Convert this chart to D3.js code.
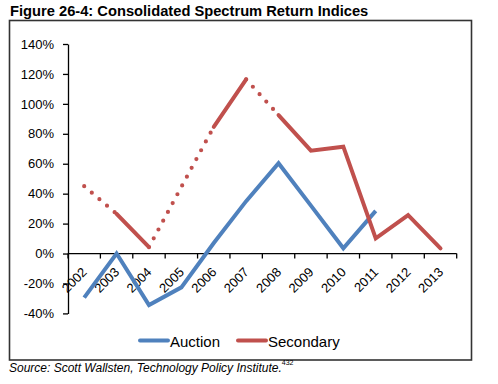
<!DOCTYPE html>
<html>
<head>
<meta charset="utf-8">
<script src="https://cdn.jsdelivr.net/npm/d3@7"></script>
<style>
  body { margin: 0; background: #fff; }
  text { font-family: "Liberation Sans", Arial, sans-serif; fill: #000; }
  .axis path, .axis line { stroke: #000; stroke-width: 1.3; }
</style>
</head>
<body>
<div id="cont"></div>
<script>

var years = ["2002", "2003", "2004", "2005", "2006", "2007", "2008", "2009", "2010", "2011", "2012", "2013"];
var auction = [-29.5, 0, -34.4, -22.6, 7, 35, 60.3, 32, 3.5, 28.5, null, null];
var secondary = [45, 26.5, 4.3, null, 84.7, 116.4, 92.5, 68.7, 71.4, 10.1, 25.7, 3.5];
// segments of Secondary that start at these years are drawn dotted
var secondaryDotted = ["2002", "2004", "2007"];
var yTicks = [-40, -20, 0, 20, 40, 60, 80, 100, 120, 140];
var seriesNames = ["Auction", "Secondary"];
var colors = ["#4F81BD", "#C0504D"];

var width = 498, height = 384;

var svg = d3.select("#cont").append("svg")
  .attr("width", width)
  .attr("height", height);

svg.append("text")
  .attr("x", 10)
  .attr("y", 16)
  .style("font-weight", "bold")
  .style("font-size", "14.7px")
  .text("Figure 26-4: Consolidated Spectrum Return Indices");

svg.append("rect")
  .attr("x", 9.5)
  .attr("y", 20.5)
  .attr("width", 462)
  .attr("height", 339.5)
  .attr("fill", "none")
  .attr("stroke", "#333")
  .attr("stroke-width", 1.6);

var xScale = d3.scaleBand().domain(years).range([68, 456.7]),
  yScale = d3.scaleLinear().domain([-40, 140]).range([313.4, 44]);

// y axis
var yAxis = svg.append("g")
  .attr("class", "axis")
  .attr("transform", "translate(68,0)")
  .call(d3.axisLeft(yScale)
    .tickValues(yTicks)
    .tickSize(5)
    .tickSizeOuter(0)
    .tickPadding(9)
    .tickFormat(function(d) { return d + "%"; }));
yAxis.selectAll("text").style("font-size", "13px");

// x axis at zero, ticks on category boundaries
var xAxis = svg.append("g")
  .attr("class", "axis")
  .attr("transform", "translate(0," + yScale(0) + ")");
xAxis.append("line")
  .attr("x1", xScale.range()[0])
  .attr("x2", xScale.range()[1]);
xAxis.selectAll(".tk")
  .data(years.concat(["end"]))
  .enter().append("line")
  .attr("class", "tk")
  .attr("x1", function(d, i) { return xScale.range()[0] + i * xScale.bandwidth(); })
  .attr("x2", function(d, i) { return xScale.range()[0] + i * xScale.bandwidth(); })
  .attr("y1", 0)
  .attr("y2", 5);

svg.selectAll(".xlab")
  .data(years)
  .enter().append("text")
  .attr("class", "xlab")
  .attr("text-anchor", "end")
  .style("font-size", "13px")
  .attr("transform", function(d) {
    var cx = xScale(d) + xScale.bandwidth() / 2;
    return "translate(" + (cx + 3.5) + "," + 273 + ") rotate(-45)";
  })
  .text(function(d) { return d; });

function cx(i) { return xScale(years[i]) + xScale.bandwidth() / 2; }

// Auction line
var line = d3.line()
  .defined(function(d) { return d.v != null; })
  .x(function(d) { return cx(d.i); })
  .y(function(d) { return yScale(d.v); });

svg.append("path")
  .datum(auction.map(function(v, i) { return { i: i, v: v }; }))
  .attr("d", line)
  .attr("fill", "none")
  .attr("stroke", colors[0])
  .attr("stroke-width", 4)
  .attr("stroke-linejoin", "miter");

// Secondary line, drawn segment by segment
var pts = [];
secondary.forEach(function(v, i) { if (v != null) pts.push({ i: i, v: v }); });
var segs = [];
for (var k = 0; k < pts.length - 1; k++) {
  segs.push({ a: pts[k], b: pts[k + 1], dotted: secondaryDotted.indexOf(years[pts[k].i]) >= 0 });
}
// join solid consecutive segments into polylines
var groups = [];
segs.forEach(function(s) {
  var last = groups[groups.length - 1];
  if (last && !s.dotted && !last.dotted) {
    last.pts.push(s.b);
  } else {
    groups.push({ dotted: s.dotted, pts: [s.a, s.b] });
  }
});

svg.selectAll(".sec")
  .data(groups)
  .enter().append("path")
  .attr("class", "sec")
  .attr("d", function(g) { return line(g.pts); })
  .attr("fill", "none")
  .attr("stroke", colors[1])
  .attr("stroke-width", function(g) { return g.dotted ? 4.2 : 4; })
  .attr("stroke-linecap", "round")
  .attr("stroke-dasharray", function(g) { return g.dotted ? "0 10" : null; });

// legend
var legX = [140, 238];
seriesNames.forEach(function(name, i) {
  svg.append("line")
    .attr("x1", legX[i])
    .attr("x2", legX[i] + 28)
    .attr("y1", 340.5)
    .attr("y2", 340.5)
    .attr("stroke", colors[i])
    .attr("stroke-width", 4)
    .attr("stroke-linecap", "round");
  svg.append("text")
    .attr("x", legX[i] + 30)
    .attr("y", 346.5)
    .style("font-size", "15px")
    .text(name);
});

// source
var src = svg.append("text")
  .attr("x", 9)
  .attr("y", 372)
  .style("font-size", "12px")
  .style("font-style", "italic")
  .text("Source: Scott Wallsten, Technology Policy Institute.");
src.append("tspan")
  .attr("dy", -7)
  .style("font-size", "7px")
  .style("font-style", "normal")
  .text("432");

</script>
</body>
</html>
